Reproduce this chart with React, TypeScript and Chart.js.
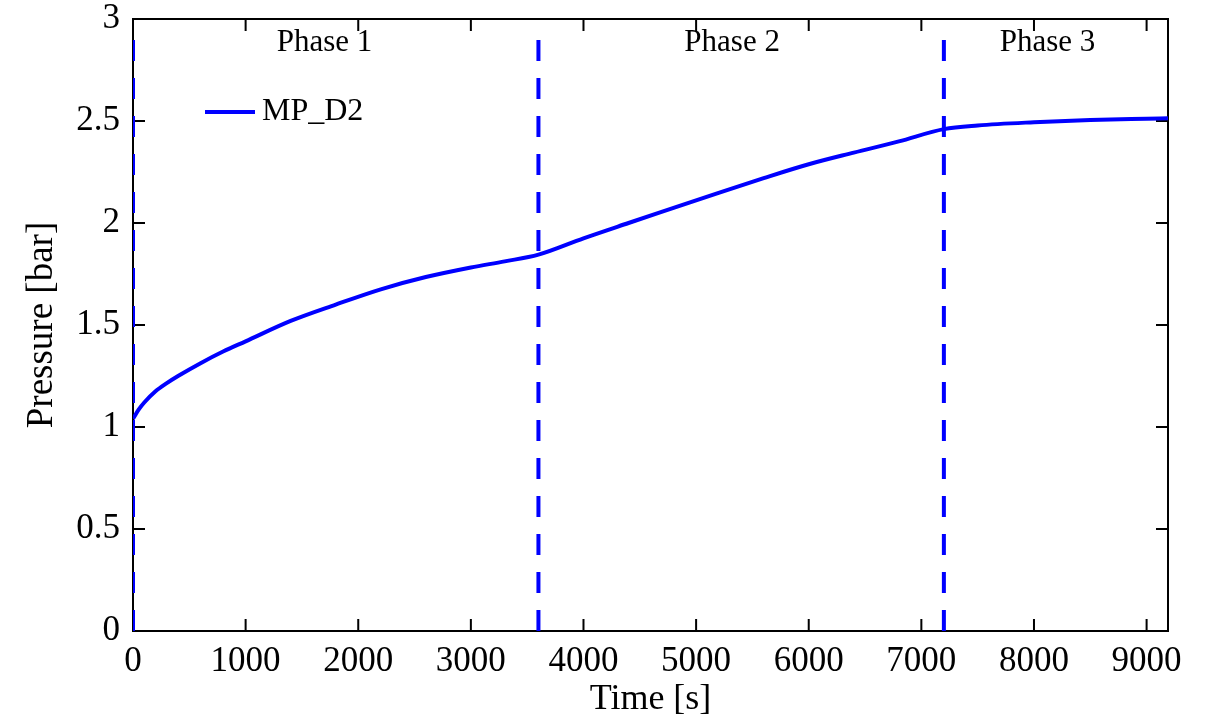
import React, { useEffect, useRef } from "react";
import { Chart, registerables } from "chart.js";
Chart.register(...registerables);

const TIME_S = [0, 50, 100, 200, 300, 400, 600, 800, 1000, 1400, 1800, 2200, 2600, 3000, 3300, 3600, 4000, 4400, 4800, 5200, 5600, 6000, 6400, 6800, 7200, 7500, 8000, 8500, 9000, 9190];
const PRESSURE_BAR = [1.04, 1.085, 1.12, 1.175, 1.215, 1.25, 1.313, 1.37, 1.42, 1.52, 1.6, 1.675, 1.735, 1.782, 1.812, 1.845, 1.925, 2.0, 2.074, 2.148, 2.22, 2.288, 2.345, 2.4, 2.46, 2.478, 2.494, 2.505, 2.511, 2.513];
const SERIES_LABEL = "MP_D2";

const PHASE_BOUNDS = [0, 3600, 7200];
const PHASE_LINE_RANGE = [0, 2.92];
const PHASE_LABELS = ["Phase 1", "Phase 2", "Phase 3"];
const PHASE_LABEL_X = [1700, 5320, 8120];
const PHASE_LABEL_Y = 2.885;

const X_TICKS = [0, 1000, 2000, 3000, 4000, 5000, 6000, 7000, 8000, 9000];
const Y_TICKS = [0, 0.5, 1, 1.5, 2, 2.5, 3];
const X_RANGE = [0, 9190];
const Y_RANGE = [0, 3];

const FONT = "'Liberation Serif', 'Times New Roman', serif";
const BLUE = "#0000ff";

const framePlugin = {
  id: "frame",
  beforeDatasetsDraw(chart: any) {
    const { ctx, chartArea, scales } = chart;
    const { left, right, top, bottom } = chartArea;
    const x = scales.x;
    const y = scales.y;
    ctx.save();
    ctx.strokeStyle = "#000";
    ctx.lineWidth = 2;
    ctx.strokeRect(left, top, right - left, bottom - top);
    const tl = 12;
    ctx.beginPath();
    x.ticks.forEach((t: any) => {
      const px = x.getPixelForValue(t.value);
      ctx.moveTo(px, bottom);
      ctx.lineTo(px, bottom - tl);
      ctx.moveTo(px, top);
      ctx.lineTo(px, top + tl);
    });
    y.ticks.forEach((t: any) => {
      const py = y.getPixelForValue(t.value);
      ctx.moveTo(left, py);
      ctx.lineTo(left + tl, py);
      ctx.moveTo(right, py);
      ctx.lineTo(right - tl, py);
    });
    ctx.stroke();
    ctx.restore();
  },
  afterDatasetsDraw(chart: any) {
    const { ctx, chartArea, scales } = chart;
    const x = scales.x;
    const y = scales.y;
    ctx.save();
    ctx.fillStyle = "#000";
    ctx.font = `31px ${FONT}`;
    ctx.textAlign = "center";
    ctx.textBaseline = "middle";
    PHASE_LABELS.forEach((lab, i) => {
      ctx.fillText(lab, x.getPixelForValue(PHASE_LABEL_X[i]), y.getPixelForValue(PHASE_LABEL_Y));
    });
    // legend
    const ds = chart.data.datasets[0];
    const lx = chartArea.left + 72;
    const ly = chartArea.top + 93;
    ctx.strokeStyle = ds.borderColor;
    ctx.lineWidth = 4;
    ctx.beginPath();
    ctx.moveTo(lx, ly);
    ctx.lineTo(lx + 50, ly);
    ctx.stroke();
    ctx.font = `32px ${FONT}`;
    ctx.textAlign = "left";
    ctx.fillText(ds.label, lx + 57, ly);
    ctx.restore();
  },
};

export default function App() {
  const ref = useRef<HTMLCanvasElement>(null);
  useEffect(() => {
    if (!ref.current) return;
    const curve = TIME_S.map((t, i) => ({ x: t, y: PRESSURE_BAR[i] }));
    const phaseSets = PHASE_BOUNDS.map((b) => ({
      label: "",
      data: [
        { x: b, y: PHASE_LINE_RANGE[0] },
        { x: b, y: PHASE_LINE_RANGE[1] },
      ],
      borderColor: BLUE,
      borderWidth: 4,
      borderDash: [21, 17],
      pointRadius: 0,
      fill: false,
    }));
    const chart = new Chart(ref.current, {
      type: "line",
      data: {
        datasets: [
          {
            label: SERIES_LABEL,
            data: curve,
            borderColor: BLUE,
            borderWidth: 4,
            pointRadius: 0,
            fill: false,
            cubicInterpolationMode: "monotone",
          },
          ...phaseSets,
        ] as any,
      },
      options: {
        animation: false,
        responsive: false,
        events: [],
        layout: { padding: { left: 0, right: 43, top: 19, bottom: 0 } },
        plugins: { legend: { display: false }, tooltip: { enabled: false } },
        scales: {
          x: {
            type: "linear",
            min: X_RANGE[0],
            max: X_RANGE[1],
            afterBuildTicks: (s: any) => {
              s.ticks = X_TICKS.map((v) => ({ value: v }));
            },
            afterFit: (s: any) => {
              s.height = 93;
              s.paddingLeft = 0;
              s.paddingRight = 0;
            },
            grid: { display: false, drawTicks: false },
            border: { display: false },
            ticks: {
              color: "#000",
              font: { family: FONT, size: 35 },
              padding: 10,
              maxRotation: 0,
              autoSkip: false,
              callback: (v: any) => String(v),
            },
            title: {
              display: true,
              text: "Time [s]",
              color: "#000",
              font: { family: FONT, size: 36, lineHeight: 1 },
              padding: { top: 0, bottom: 6 },
            },
          },
          y: {
            type: "linear",
            min: Y_RANGE[0],
            max: Y_RANGE[1],
            afterBuildTicks: (s: any) => {
              s.ticks = Y_TICKS.map((v) => ({ value: v }));
            },
            afterFit: (s: any) => {
              s.width = 133;
              s.paddingTop = 0;
              s.paddingBottom = 0;
            },
            grid: { display: false, drawTicks: false },
            border: { display: false },
            ticks: {
              color: "#000",
              font: { family: FONT, size: 35 },
              padding: 13,
              autoSkip: false,
              callback: (v: any) => String(v),
            },
            title: {
              display: true,
              text: "Pressure [bar]",
              color: "#000",
              font: { family: FONT, size: 37, lineHeight: 1 },
              padding: { top: 24, bottom: 0 },
            },
          },
        },
      },
      plugins: [framePlugin],
    });
    return () => chart.destroy();
  }, []);
  return (
    <div style={{ position: "fixed", left: 0, top: 0, width: 1211, height: 724, background: "#fff" }}>
      <canvas ref={ref} width={1211} height={724} style={{ display: "block" }} />
    </div>
  );
}
